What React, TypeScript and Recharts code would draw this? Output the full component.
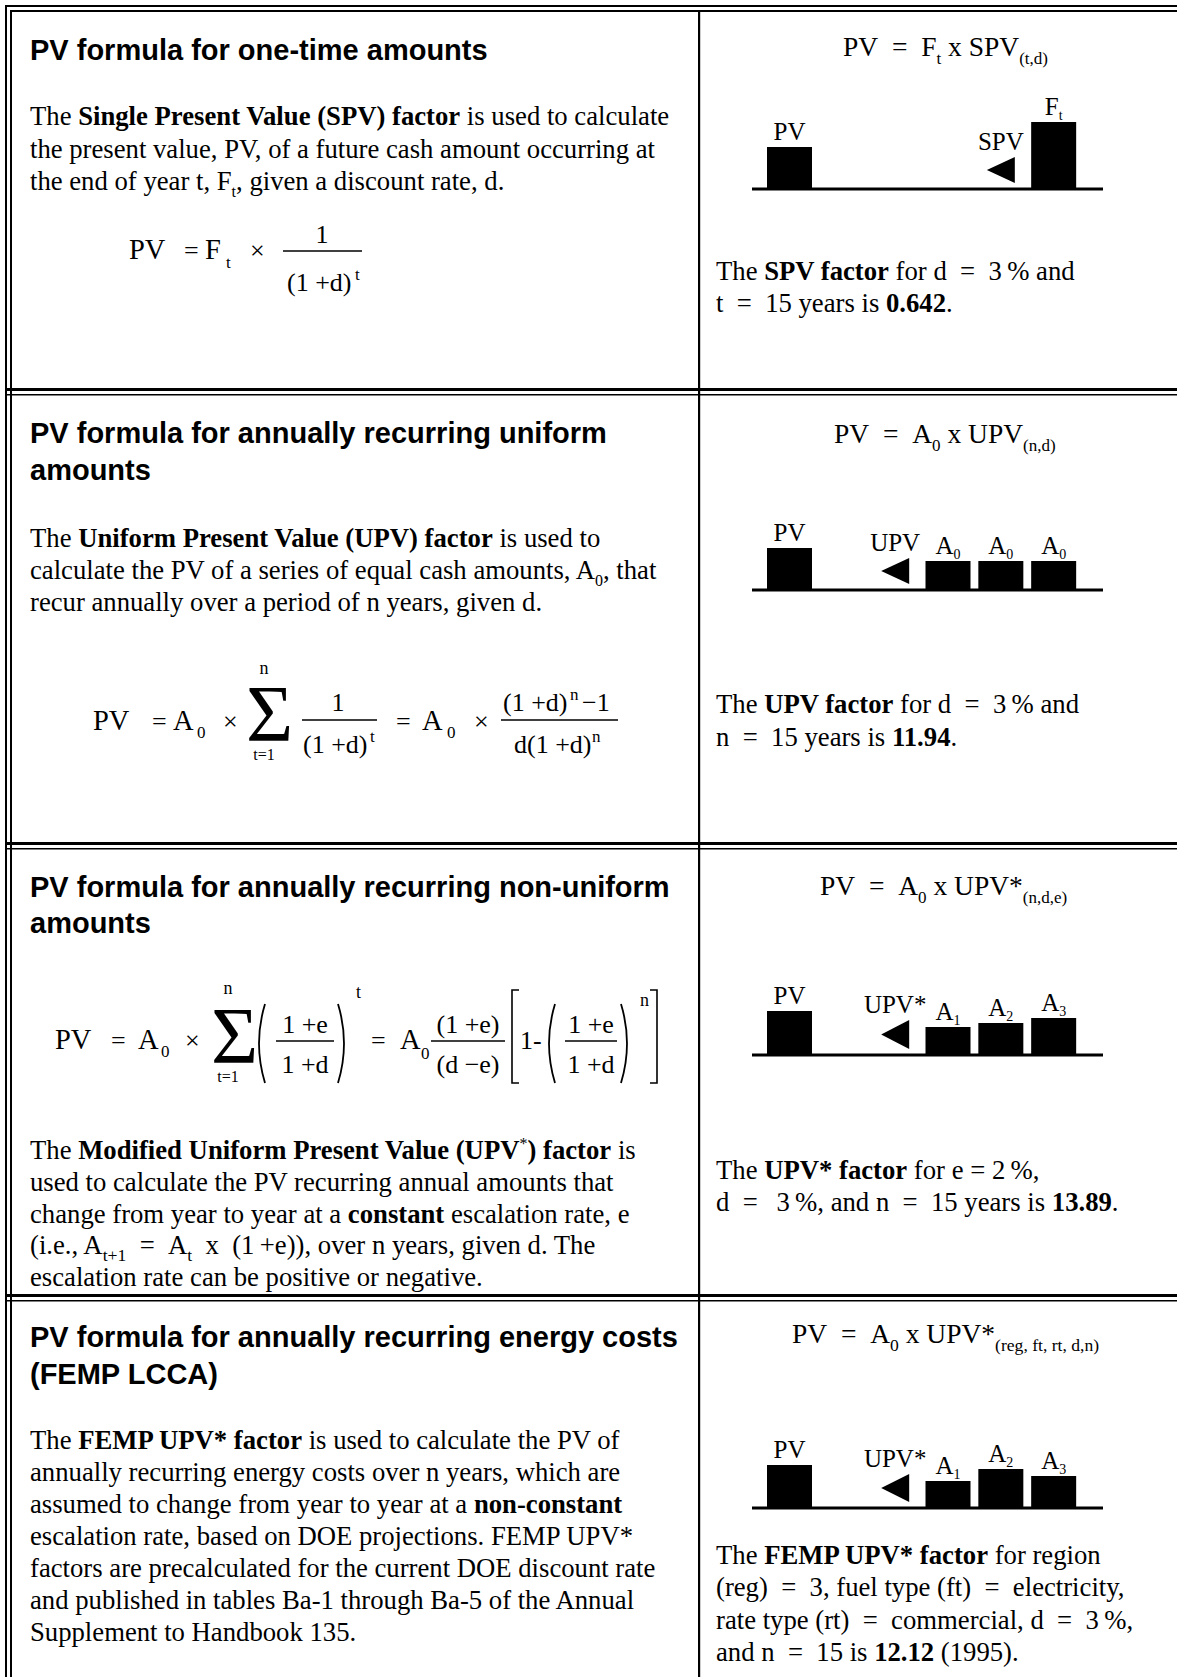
import React from "react";
import { BarChart, Bar, XAxis, YAxis, LabelList } from "recharts";

const SERIF = "'Liberation Serif', 'Times New Roman', serif";
const SANS = "'Liberation Sans', Arial, sans-serif";
const BODY = 26.7;
const HEAD = 29;
const EQ = "\u2002=\u2002";

// timeline slots shared by the four cash-flow diagrams
const SLOTS = ["0", "1", "2", "3", "4", "5"];

// one-time amount: PV now, F_t at the end of year t
const SPV_AMOUNTS = [42, 0, 0, 0, 0, 67];
const SPV_ARROW = [0, 0, 0, 0, 32, 0];
const SPV_LABELS = ["PV", "", "", "", "SPV", "F_t"];

// uniform annual amounts
const UPV_AMOUNTS = [42, 0, 0, 29, 29, 29];
const UPV_ARROW = [0, 0, 32, 0, 0, 0];
const UPV_LABELS = ["PV", "", "UPV", "A_0", "A_0", "A_0"];

// constant escalation
const UPVE_AMOUNTS = [44, 0, 0, 28, 32, 37];
const UPVE_ARROW = [0, 0, 35, 0, 0, 0];
const UPVE_LABELS = ["PV", "", "UPV*", "A_1", "A_2", "A_3"];

// FEMP non-constant escalation
const FEMP_AMOUNTS = [43, 0, 0, 27, 39, 32];
const FEMP_ARROW = [0, 0, 34, 0, 0, 0];
const FEMP_LABELS = ["PV", "", "UPV*", "A_1", "A_2", "A_3"];

type Seg = [string, string?];

function Rich({ x, y, segs, size = BODY, family = SERIF, weight, subScale = 0.6 }: { x: number; y: number; segs: Seg[]; size?: number; family?: string; weight?: string; subScale?: number }) {
  let off = 0;
  return (
    <text x={x} y={y} fontSize={size} fontFamily={family} fontWeight={weight} fill="#000" xmlSpace="preserve" style={{ whiteSpace: "pre" }}>
      {segs.map(([t, m = ""], i) => {
        const sub = m.includes("_");
        const sup = m.includes("^");
        const target = sub ? size * 0.28 : sup ? -size * 0.38 : 0;
        const dy = target - off;
        off = target;
        return (
          <tspan key={i} dy={dy} fontWeight={m.includes("b") ? "bold" : undefined} fontSize={sub || sup ? size * subScale : undefined}>
            {t}
          </tspan>
        );
      })}
    </text>
  );
}

function T({ x, y, children, size = 26, anchor }: { x: number; y: number; children: React.ReactNode; size?: number; anchor?: string }) {
  return (
    <text x={x} y={y} fontSize={size} fontFamily={SERIF} fill="#000" textAnchor={anchor as any} xmlSpace="preserve" style={{ whiteSpace: "pre" }}>
      {children}
    </text>
  );
}

function Frac({ x1, x2, y }: { x1: number; x2: number; y: number }) {
  return <line x1={x1} x2={x2} y1={y} y2={y} stroke="#000" strokeWidth={1.6} />;
}

function Paren({ x, top, bottom, right }: { x: number; top: number; bottom: number; right?: boolean }) {
  const d = right ? -1 : 1;
  const mid = (top + bottom) / 2;
  return <path d={`M${x + d * 7},${top} Q${x - d * 5},${mid} ${x + d * 7},${bottom}`} fill="none" stroke="#000" strokeWidth={1.8} />;
}

function Bracket({ x, top, bottom, right }: { x: number; top: number; bottom: number; right?: boolean }) {
  const d = right ? -1 : 1;
  return <path d={`M${x + d * 7},${top} L${x},${top} L${x},${bottom} L${x + d * 7},${bottom}`} fill="none" stroke="#000" strokeWidth={1.6} />;
}

function Sigma({ x, y }: { x: number; y: number }) {
  return (
    <text transform={`translate(${x},${y}) scale(1.5,1.5)`} fontSize={54} fontFamily={SERIF} fill="#000">
      Σ
    </text>
  );
}

function renderLabel(props: any) {
  const vb = props.viewBox || {};
  const x = Number(props.x ?? vb.x);
  const y = Number(props.y ?? vb.y);
  const width = Number(props.width ?? vb.width);
  const height = Number(props.height ?? vb.height);
  const value = props.value;
  if (!value || !height) return null;
  const [main, sub] = String(value).split("_");
  return (
    <text x={x + width / 2} y={y - 7} textAnchor="middle" fontFamily={SERIF} fontSize={25} fill="#000">
      {main}
      {sub && (
        <tspan fontSize={14} dy={5}>
          {sub}
        </tspan>
      )}
    </text>
  );
}

function ArrowShape(props: any) {
  const { x, y, width, height } = props;
  if (!height || height <= 0) return null;
  const cx = x + width / 2;
  const top = y;
  const bot = y + height - 6;
  return <path d={`M${cx - 14},${(top + bot) / 2} L${cx + 14},${top} L${cx + 14},${bot} Z`} fill="#000" />;
}

function Diagram({ amounts, arrow, labels, baseline }: { amounts: number[]; arrow: number[]; labels: string[]; baseline: number }) {
  const data = SLOTS.map((s, i) => ({ slot: s, amount: amounts[i], arrow: arrow[i], label: labels[i] }));
  return (
    <div style={{ position: "absolute", left: 752, top: baseline - 100 }}>
      <BarChart width={351} height={104} data={data} margin={{ top: 0, right: 0, bottom: 0, left: 0 }} barCategoryGap={0}>
        <XAxis dataKey="slot" tick={false} tickLine={false} axisLine={{ stroke: "#000", strokeWidth: 3 }} height={4} padding={{ left: 11, right: 23 }} />
        <YAxis hide domain={[0, 100]} />
        <Bar dataKey="amount" stackId="a" fill="#000" barSize={45} isAnimationActive={false}>
          <LabelList dataKey="label" content={renderLabel} />
        </Bar>
        <Bar dataKey="arrow" stackId="a" fill="#000" barSize={45} shape={ArrowShape} isAnimationActive={false}>
          <LabelList dataKey="label" content={renderLabel} />
        </Bar>
      </BarChart>
    </div>
  );
}

function Page() {
  const L = 30;
  const R = 716;
  const F = 27.5; // right-hand formulas
  const M = 28.5; // main symbols in left formulas
  return (
    <svg width={1177} height={1677} style={{ position: "absolute", left: 0, top: 0 }}>
      {/* frame */}
      <rect x={5} y={5} width={1172} height={2} fill="#000" />
      <rect x={11} y={10} width={1166} height={2} fill="#000" />
      <rect x={5} y={5} width={2} height={1672} fill="#000" />
      <rect x={10} y={10} width={2} height={1667} fill="#000" />
      <rect x={698} y={11} width={2.2} height={1666} fill="#000" />
      {[388, 842, 1294].map((y) => (
        <g key={y}>
          <rect x={5} y={y} width={1172} height={3} fill="#000" />
          <rect x={5} y={y + 6} width={1172} height={1.5} fill="#000" />
        </g>
      ))}

      {/* row 1 */}
      <Rich x={L} y={60} size={HEAD} family={SANS} weight="bold" segs={[["PV formula for one-time amounts"]]} />
      <Rich x={L} y={125} segs={[["The "], ["Single Present Value (SPV) factor", "b"], [" is used to calculate"]]} />
      <Rich x={L} y={158} segs={[["the present value, PV, of a future cash amount occurring at"]]} />
      <Rich x={L} y={190} segs={[["the end of year t, F"], ["t", "_"], [", given a discount rate, d."]]} />
      <T x={129} y={259} size={M}>PV</T>
      <T x={184} y={259}>=</T>
      <T x={205} y={259} size={M}>F</T>
      <T x={226} y={268} size={17}>t</T>
      <T x={250} y={259}>×</T>
      <T x={322} y={243} anchor="middle">1</T>
      <Frac x1={283} x2={362} y={251} />
      <T x={287} y={291}>(1 +d)</T>
      <T x={355} y={280} size={17}>t</T>

      <Rich x={843} y={56} size={F} subScale={0.62} segs={[["PV" + EQ + "F"], ["t", "_"], [" x SPV"], ["(t,d)", "_"]]} />
      <Rich x={R} y={280} segs={[["The "], ["SPV factor", "b"], [" for d" + EQ + "3\u2009% and"]]} />
      <Rich x={R} y={312} segs={[["t" + EQ + "15 years is "], ["0.642", "b"], ["."]]} />

      {/* row 2 */}
      <Rich x={L} y={443} size={HEAD} family={SANS} weight="bold" segs={[["PV formula for annually recurring uniform"]]} />
      <Rich x={L} y={480} size={HEAD} family={SANS} weight="bold" segs={[["amounts"]]} />
      <Rich x={L} y={547} segs={[["The "], ["Uniform Present Value (UPV) factor", "b"], [" is used to"]]} />
      <Rich x={L} y={579} segs={[["calculate the PV of a series of equal cash amounts, A"], ["0", "_"], [", that"]]} />
      <Rich x={L} y={611} segs={[["recur annually over a period of n years, given d."]]} />
      <T x={93} y={730} size={M}>PV</T>
      <T x={152} y={730}>=</T>
      <T x={173} y={730} size={M}>A</T>
      <T x={197} y={738} size={17}>0</T>
      <T x={223} y={730}>×</T>
      <Sigma x={246} y={741} />
      <T x={264} y={674} size={18} anchor="middle">n</T>
      <T x={264} y={760} size={16} anchor="middle">t=1</T>
      <T x={338} y={711} anchor="middle">1</T>
      <Frac x1={302} x2={377} y={720} />
      <T x={303} y={753}>(1 +d)</T>
      <T x={370} y={742} size={17}>t</T>
      <T x={396} y={730}>=</T>
      <T x={422} y={730} size={M}>A</T>
      <T x={447} y={738} size={17}>0</T>
      <T x={474} y={730}>×</T>
      <T x={503} y={711}>(1 +d)</T>
      <T x={570} y={700} size={17}>n</T>
      <T x={582} y={711}>−1</T>
      <Frac x1={501} x2={618} y={720} />
      <T x={514} y={753}>d(1 +d)</T>
      <T x={592} y={742} size={17}>n</T>

      <Rich x={834} y={443} size={F} subScale={0.62} segs={[["PV" + EQ + "A"], ["0", "_"], [" x UPV"], ["(n,d)", "_"]]} />
      <Rich x={R} y={713} segs={[["The "], ["UPV factor", "b"], [" for d" + EQ + "3\u2009% and"]]} />
      <Rich x={R} y={746} segs={[["n" + EQ + "15 years is "], ["11.94", "b"], ["."]]} />

      {/* row 3 */}
      <Rich x={L} y={897} size={HEAD} family={SANS} weight="bold" segs={[["PV formula for annually recurring non-uniform"]]} />
      <Rich x={L} y={933} size={HEAD} family={SANS} weight="bold" segs={[["amounts"]]} />
      <T x={55} y={1049} size={M}>PV</T>
      <T x={111} y={1049}>=</T>
      <T x={138} y={1049} size={M}>A</T>
      <T x={161} y={1057} size={17}>0</T>
      <T x={185} y={1049}>×</T>
      <Sigma x={211} y={1063} />
      <T x={228} y={994} size={18} anchor="middle">n</T>
      <T x={228} y={1082} size={16} anchor="middle">t=1</T>
      <Paren x={258} top={1004} bottom={1083} />
      <T x={305} y={1033} anchor="middle">1 +e</T>
      <Frac x1={276} x2={334} y={1041} />
      <T x={305} y={1073} anchor="middle">1 +d</T>
      <Paren x={345} top={1004} bottom={1083} right />
      <T x={356} y={998} size={18}>t</T>
      <T x={371} y={1049}>=</T>
      <T x={400} y={1049} size={M}>A</T>
      <T x={421} y={1059} size={17}>0</T>
      <T x={468} y={1033} anchor="middle">(1 +e)</T>
      <Frac x1={431} x2={505} y={1041} />
      <T x={468} y={1073} anchor="middle">(d −e)</T>
      <Bracket x={512} top={990} bottom={1083} />
      <T x={520} y={1049}>1</T>
      <T x={533} y={1049}>-</T>
      <Paren x={548} top={1004} bottom={1083} />
      <T x={591} y={1033} anchor="middle">1 +e</T>
      <Frac x1={565} x2={617} y={1041} />
      <T x={591} y={1073} anchor="middle">1 +d</T>
      <Paren x={628} top={1004} bottom={1083} right />
      <T x={640} y={1006} size={18}>n</T>
      <Bracket x={657} top={990} bottom={1083} right />

      <Rich x={L} y={1159} segs={[["The "], ["Modified Uniform Present Value (UPV", "b"], ["*", "^"], [") factor", "b"], [" is"]]} />
      <Rich x={L} y={1191} segs={[["used to calculate the PV recurring annual amounts that"]]} />
      <Rich x={L} y={1223} segs={[["change from year to year at a "], ["constant", "b"], [" escalation rate, e"]]} />
      <Rich x={L} y={1254} subScale={0.66} segs={[["(i.e., A"], ["t+1", "_"], [EQ + "A"], ["t", "_"], ["\u2002x\u2002(1\u2009+e)), over n years, given d. The"]]} />
      <Rich x={L} y={1286} segs={[["escalation rate can be positive or negative."]]} />

      <Rich x={820} y={895} size={F} subScale={0.62} segs={[["PV" + EQ + "A"], ["0", "_"], [" x UPV*"], ["(n,d,e)", "_"]]} />
      <Rich x={R} y={1179} segs={[["The "], ["UPV* factor", "b"], [" for e = 2\u2009%,"]]} />
      <Rich x={R} y={1211} segs={[["d" + EQ + "\u20093\u2009%, and n" + EQ + "15 years is "], ["13.89", "b"], ["."]]} />

      {/* row 4 */}
      <Rich x={L} y={1347} size={HEAD} family={SANS} weight="bold" segs={[["PV formula for annually recurring energy costs"]]} />
      <Rich x={L} y={1384} size={HEAD} family={SANS} weight="bold" segs={[["(FEMP LCCA)"]]} />
      <Rich x={L} y={1449} segs={[["The "], ["FEMP UPV* factor", "b"], [" is used to calculate the PV of"]]} />
      <Rich x={L} y={1481} segs={[["annually recurring energy costs over n years, which are"]]} />
      <Rich x={L} y={1513} segs={[["assumed to change from year to year at a "], ["non-constant", "b"]]} />
      <Rich x={L} y={1545} segs={[["escalation rate, based on DOE projections. FEMP UPV*"]]} />
      <Rich x={L} y={1577} segs={[["factors are precalculated for the current DOE discount rate"]]} />
      <Rich x={L} y={1609} segs={[["and published in tables Ba-1 through Ba-5 of the Annual"]]} />
      <Rich x={L} y={1641} segs={[["Supplement to Handbook 135."]]} />

      <Rich x={792} y={1343} size={F} subScale={0.64} segs={[["PV" + EQ + "A"], ["0", "_"], [" x UPV*"], ["(reg, ft, rt, d,n)", "_"]]} />
      <Rich x={R} y={1564} segs={[["The "], ["FEMP UPV* factor", "b"], [" for region"]]} />
      <Rich x={R} y={1596} segs={[["(reg)" + EQ + "3, fuel type (ft)" + EQ + "electricity,"]]} />
      <Rich x={R} y={1629} segs={[["rate type (rt)" + EQ + "commercial, d" + EQ + "3\u2009%,"]]} />
      <Rich x={R} y={1661} segs={[["and n" + EQ + "15 is "], ["12.12", "b"], [" (1995)."]]} />
    </svg>
  );
}

export default function App() {
  return (
    <div style={{ position: "absolute", left: 0, top: 0, width: 1177, height: 1677, background: "#fff", overflow: "hidden" }}>
      <Page />
      <Diagram amounts={SPV_AMOUNTS} arrow={SPV_ARROW} labels={SPV_LABELS} baseline={189} />
      <Diagram amounts={UPV_AMOUNTS} arrow={UPV_ARROW} labels={UPV_LABELS} baseline={590} />
      <Diagram amounts={UPVE_AMOUNTS} arrow={UPVE_ARROW} labels={UPVE_LABELS} baseline={1055} />
      <Diagram amounts={FEMP_AMOUNTS} arrow={FEMP_ARROW} labels={FEMP_LABELS} baseline={1508} />
    </div>
  );
}
